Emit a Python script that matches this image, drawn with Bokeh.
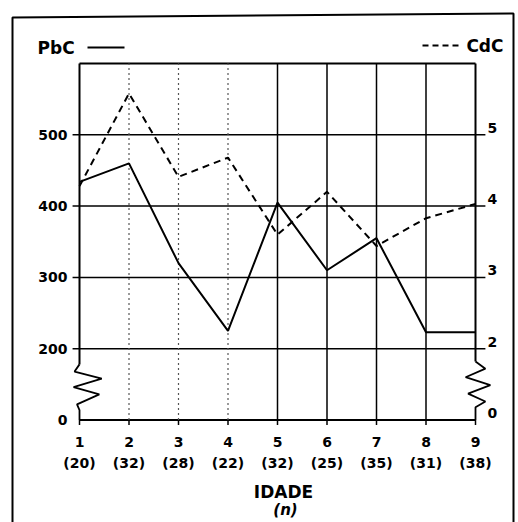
from bokeh.plotting import figure
from bokeh.models import Range1d
from bokeh.core.properties import value
from bokeh.embed import file_html
from bokeh.resources import INLINE

# ---- data ----
ages = [1, 2, 3, 4, 5, 6, 7, 8, 9]
n_counts = ["(20)", "(32)", "(28)", "(22)", "(32)", "(25)", "(35)", "(31)", "(38)"]
pbc = [434, 460, 320, 225, 405, 310, 355, 223, 223]
cdc = [4.28, 5.58, 4.41, 4.68, 3.60, 4.20, 3.44, 3.83, 4.03]
left_labels = ["0", "200", "300", "400", "500"]
left_vals = [0, 200, 300, 400, 500]
right_labels = ["0", "2", "3", "4", "5"]
right_vals = [0, 2, 3, 4, 5]

FONT = value("DejaVu Sans")
W, H = 518, 522
PX_X = 49.5          # pixels per age step
PX_Y = 0.713         # pixels per PbC unit
X0 = 1 - 79 / PX_X
X1 = X0 + W / PX_X
Y1 = 600 + 63 / PX_Y
Y0 = Y1 - H / PX_Y

p = figure(width=W, height=H, x_range=Range1d(X0, X1), y_range=Range1d(Y0, Y1),
           output_backend="svg", toolbar_location=None, min_border=0,
           x_axis_location=None, y_axis_location=None)
p.extra_y_ranges = {"cdc": Range1d(Y0 / 100, Y1 / 100)}
p.grid.visible = False
p.outline_line_color = None
p.background_fill_color = "white"
p.border_fill_color = "white"


def sx(px):  # screen px -> data x (decoration only)
    return X0 + px / PX_X


def sy(py):  # screen px -> data y (decoration only)
    return Y1 - py / PX_Y


def pos_left(v):  # broken axis: 0 sits just below 200
    return v if v >= 200 else 100


# outer frame of the figure
p.line([sx(12), sx(12), sx(513), sx(513)], [Y0 - 50, sy(17), sy(13), Y0 - 50],
       line_color="black", line_width=2)

# horizontal grid lines
for v in left_vals[1:]:
    p.line([ages[0] - 0.14, ages[-1] + 0.2], [v, v], line_color="black", line_width=1.5)
# top border
p.line([ages[0], ages[-1]], [600, 600], line_color="black", line_width=2)
# baseline (0)
p.line([ages[0], ages[-1]], [100, 100], line_color="black", line_width=2)
# bottom tick marks
p.segment(x0=ages, x1=ages, y0=[100] * 9, y1=[100 - 7] * 9, line_color="black", line_width=1.5)

# vertical grid lines
for a in ages[1:4]:
    p.line([a, a], [100, 600], line_color="#555555", line_width=1.2, line_dash="2 3")
for a in ages[4:8]:
    p.line([a, a], [100, 600], line_color="black", line_width=1.5)

# left axis with break
p.line([1, 1], [600, 178], line_color="black", line_width=2)
p.line([1.0, 0.9, 1.45, 0.88, 1.4, 0.95, 1.0, 1.0],
       [178, 168, 158, 146, 136, 122, 114, 100], line_color="black", line_width=1.8)
# right axis with break
p.line([9, 9], [600, 182], line_color="black", line_width=2)
p.line([9.0, 9.2, 8.8, 9.3, 8.85, 9.2, 9.0, 9.0],
       [182, 172, 160, 149, 137, 126, 118, 100], line_color="black", line_width=1.8)

# data series
p.line(ages, pbc, line_color="black", line_width=2)
p.line(ages, cdc, y_range_name="cdc", line_color="black", line_width=2, line_dash="7 5")

# tick labels
p.text(x=[1] * 5, y=[pos_left(v) for v in left_vals], text=left_labels,
       x_offset=-12, text_align="right", text_baseline="middle",
       text_font=FONT, text_font_style="bold", text_font_size="14px", text_color="black")
p.text(x=[9] * 5, y=[pos_left(v * 100) / 100 for v in right_vals], text=right_labels,
       y_range_name="cdc", x_offset=12, y_offset=-7, text_align="left", text_baseline="middle",
       text_font=FONT, text_font_style="bold", text_font_size="14px", text_color="black")
p.text(x=ages, y=[100] * 9, text=[str(a) for a in ages], y_offset=22,
       text_align="center", text_baseline="middle",
       text_font=FONT, text_font_style="bold", text_font_size="14px", text_color="black")
p.text(x=ages, y=[100] * 9, text=n_counts, y_offset=43,
       text_align="center", text_baseline="middle",
       text_font=FONT, text_font_style="bold", text_font_size="14px", text_color="black")
p.text(x=[5], y=[100], text=["IDADE"], x_offset=6, y_offset=72,
       text_align="center", text_baseline="middle",
       text_font=FONT, text_font_style="bold", text_font_size="17px", text_color="black")
p.text(x=[5], y=[100], text=["(n)"], x_offset=8, y_offset=90,
       text_align="center", text_baseline="middle",
       text_font=FONT, text_font_style="bold italic", text_font_size="15px", text_color="black")

# legend
p.text(x=[sx(37)], y=[sy(47)], text=["PbC"], text_align="left", text_baseline="middle",
       text_font=FONT, text_font_style="bold", text_font_size="17px", text_color="black")
p.line([sx(87), sx(124)], [sy(47), sy(47)], line_color="black", line_width=2)
p.line([sx(422), sx(460)], [sy(45), sy(45)], line_color="black", line_width=2, line_dash="6 4")
p.text(x=[sx(503)], y=[sy(45)], text=["CdC"], text_align="right", text_baseline="middle",
       text_font=FONT, text_font_style="bold", text_font_size="17px", text_color="black")

open("out.html", "w").write(file_html(p, INLINE))
